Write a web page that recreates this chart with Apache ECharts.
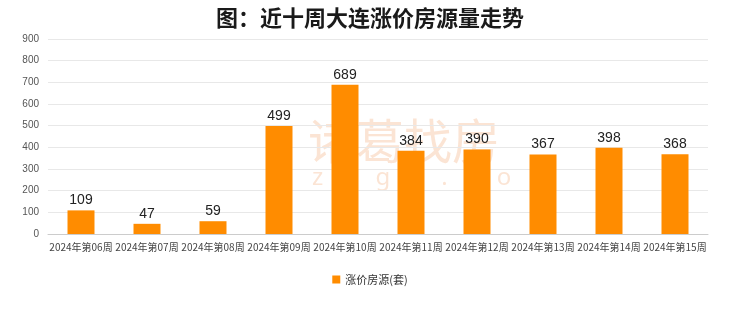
<!DOCTYPE html>
<html><head><meta charset="utf-8">
<script src="https://cdn.jsdelivr.net/npm/echarts@6/dist/echarts.min.js"></script>
<style>html,body{margin:0;padding:0;background:#fff}#c{width:740px;height:312px}</style>
</head><body><div id="c"></div>
<script>
const categories = ['2024年第06周','2024年第07周','2024年第08周','2024年第09周','2024年第10周','2024年第11周','2024年第12周','2024年第13周','2024年第14周','2024年第15周'];
const values = [109,47,59,499,689,384,390,367,398,368];
const seriesName = '涨价房源(套)';
const chart = echarts.init(document.getElementById('c'));
chart.setOption({
  animation:false,
  title:{text:'图：近十周大连涨价房源量走势',left:'center',top:2,textStyle:{fontSize:22,fontWeight:'bold',color:'#1a1a1a',fontFamily:'Noto Sans CJK SC'}},
  graphic:[
    {type:'text',left:308,top:117,z:0,style:{text:'诸葛找房',font:'48px "Noto Sans CJK SC"',fill:'rgba(246,195,160,0.45)'}},
    {type:'text',left:312,top:166,z:0,style:{text:'z   u   g   e   .   c   o   m',font:'24px "Noto Sans"',fill:'rgba(246,195,160,0.45)'}}
  ],
  grid:{left:48,right:32,top:39,bottom:78},
  legend:{bottom:22,left:'center',itemWidth:8,itemHeight:8,icon:'rect',textStyle:{fontSize:11,color:'#333',fontFamily:'Noto Sans CJK SC'},data:[seriesName]},
  xAxis:{type:'category',data:categories,axisTick:{show:false},axisLine:{lineStyle:{color:'#ccc'}},axisLabel:{fontSize:10,color:'#444',margin:8,interval:0,fontFamily:'Noto Sans CJK SC'}},
  yAxis:{type:'value',min:0,max:900,interval:100,axisLine:{show:false},axisTick:{show:false},splitLine:{lineStyle:{color:'#e8e8e8'}},axisLabel:{fontSize:10,color:'#555',margin:9}},
  series:[{name:seriesName,type:'bar',data:values,barWidth:27,itemStyle:{color:'#FF8C00'},label:{show:true,position:'top',fontSize:14,color:'#222',distance:3,fontFamily:'Liberation Sans'}}]
});
</script></body></html>
